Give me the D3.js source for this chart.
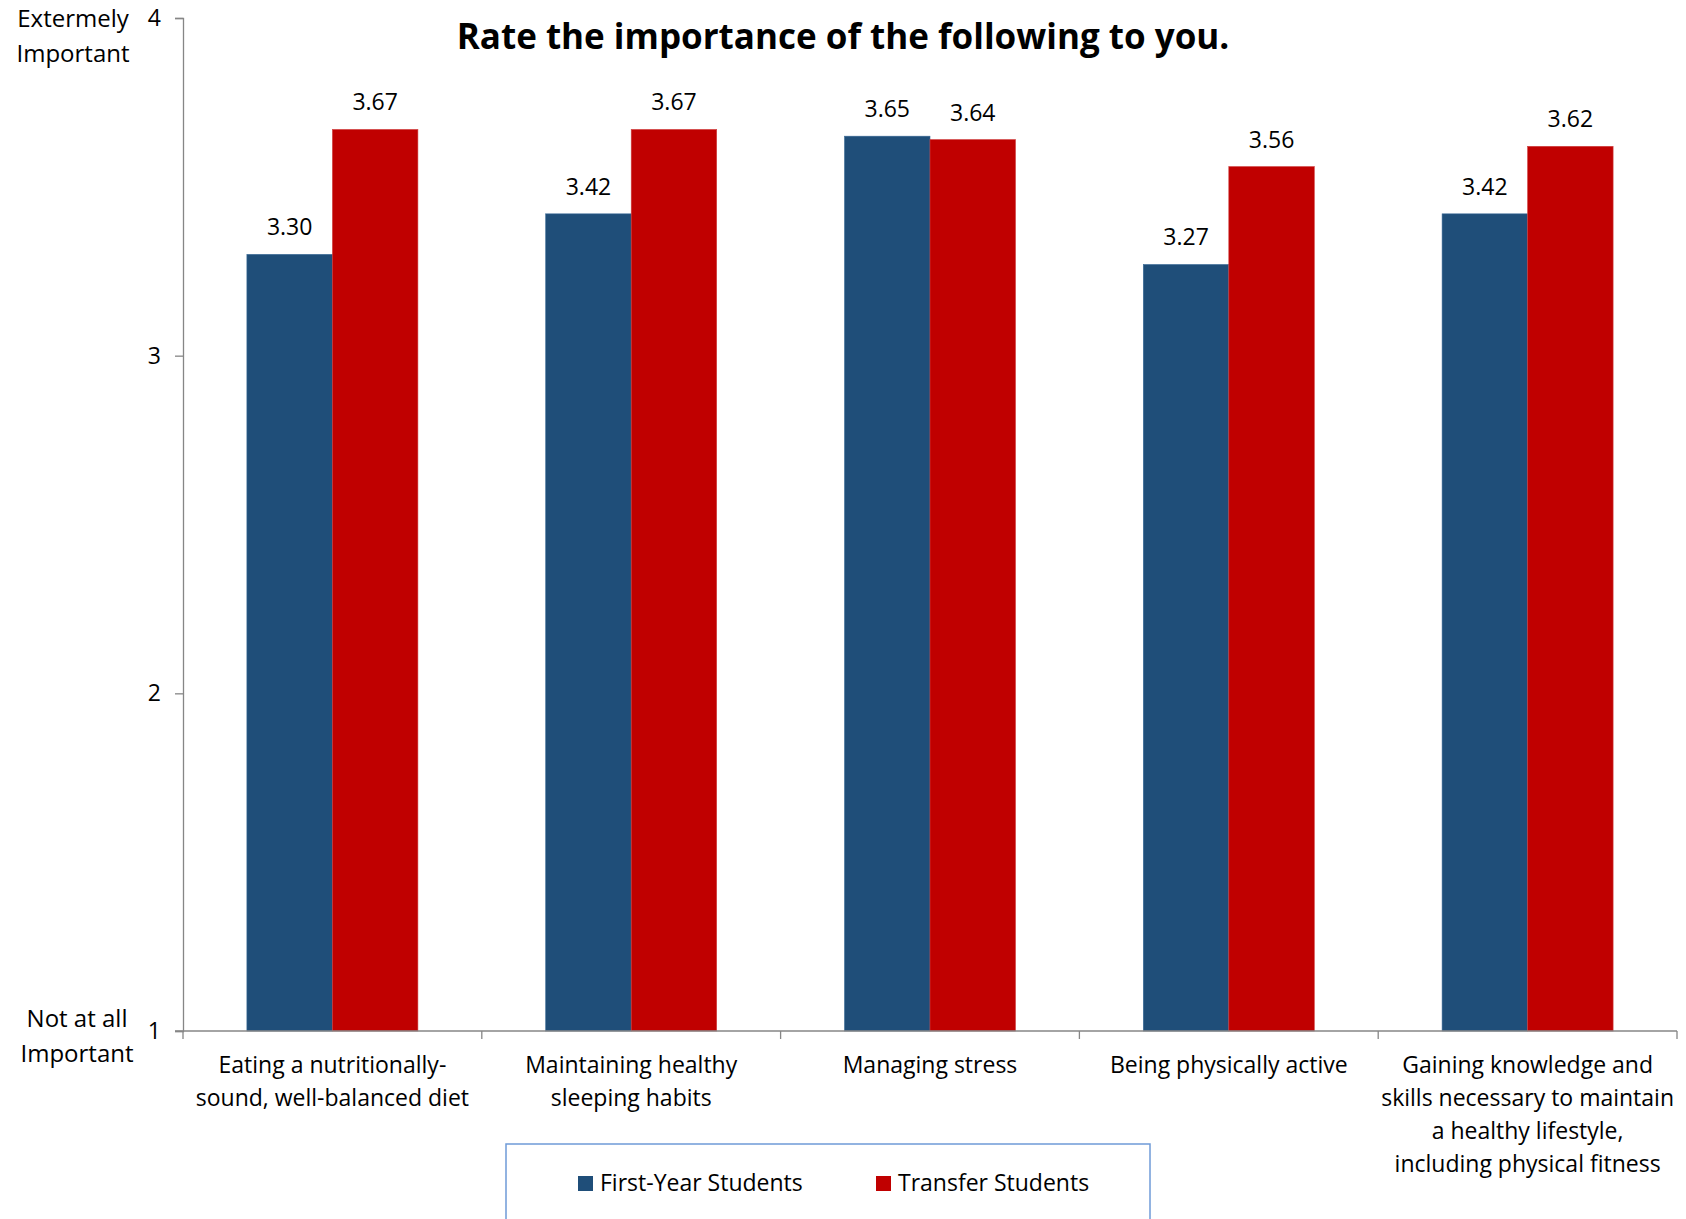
<!DOCTYPE html>
<html><head><meta charset="utf-8">
<script src="https://cdn.jsdelivr.net/npm/d3@7"></script>
<style>body{margin:0;background:#fff}svg{display:block}text{font-family:"Open Sans",sans-serif;fill:#000}</style>
</head><body>
<script>
const categories = [
  "Eating a nutritionally-\nsound, well-balanced diet",
  "Maintaining healthy\nsleeping habits",
  "Managing stress",
  "Being physically active",
  "Gaining knowledge and\nskills necessary to maintain\na healthy lifestyle,\nincluding physical fitness"
];
const seriesNames = ["First-Year Students", "Transfer Students"];
const firstYear = [3.30, 3.42, 3.65, 3.27, 3.42];
const transfer = [3.67, 3.67, 3.64, 3.56, 3.62];
const yTicks = [1, 2, 3, 4];
const title = "Rate the importance of the following to you.";
const colors = ["#1F4E79", "#C00000"];

const W = 1686, H = 1219;
const svg = d3.select("body").append("svg").attr("width", W).attr("height", H);

const x0 = d3.scaleBand().domain(categories).range([183, 1677]).paddingInner(0.4277).paddingOuter(0.21385);
const x1 = d3.scaleBand().domain(seriesNames).range([0, x0.bandwidth()]);
const y = d3.scaleLinear().domain([1, 4]).range([1031, 18]);
const color = d3.scaleOrdinal().domain(seriesNames).range(colors);
const values = [firstYear, transfer];

// bars
const g = svg.append("g");
categories.forEach((c, i) => {
  seriesNames.forEach((s, j) => {
    const v = values[j][i];
    g.append("rect")
      .attr("x", x0(c) + x1(s))
      .attr("y", y(v))
      .attr("width", x1.bandwidth())
      .attr("height", y(1) - y(v))
      .attr("fill", color(s))
      .attr("stroke", j === 0 ? "#3a6a96" : "#d04040").attr("stroke-width", 0.6);
    g.append("text")
      .attr("x", x0(c) + x1(s) + x1.bandwidth() / 2)
      .attr("y", y(v) - 19)
      .attr("text-anchor", "middle")
      .style("font-size", "23px")
      .text(v.toFixed(2));
  });
});

// y axis
const yAxis = d3.axisLeft(y).tickValues(yTicks).tickSize(8).tickPadding(14).tickFormat(d3.format("d"));
const ya = svg.append("g").attr("transform", "translate(183,0)").call(yAxis);
ya.select(".domain").attr("stroke", "#868686").attr("stroke-width", 1.3);
ya.selectAll(".tick line").attr("stroke", "#868686").attr("stroke-width", 1.3);
ya.selectAll(".tick text").style("font-size", "23px").attr("font-family", "Open Sans").attr("fill", "#000");

// x axis
const xa = svg.append("g").attr("transform", "translate(0,1031)");
xa.append("line").attr("x1", 175).attr("x2", 1677).attr("stroke", "#868686").attr("stroke-width", 1.3);
const bounds = d3.range(categories.length + 1).map(i => x0.range()[0] + i * x0.step());
xa.selectAll(".bt").data(bounds).enter().append("line")
  .attr("x1", d => d).attr("x2", d => d).attr("y1", 0).attr("y2", 8)
  .attr("stroke", "#868686").attr("stroke-width", 1.3);
categories.forEach(c => {
  const t = xa.append("text").attr("text-anchor", "middle").style("font-size", "23px")
    .attr("transform", `translate(${x0(c) + x0.bandwidth() / 2},0)`);
  c.split("\n").forEach((line, k) => {
    t.append("tspan").attr("x", 0).attr("y", 42 + k * 33).text(line);
  });
});

// y end labels
const endLabels = [["Extermely", "Important", 73, 27], ["Not at all", "Important", 77, 1027]];
endLabels.forEach(([a, b, cx, by]) => {
  const t = svg.append("text").attr("text-anchor", "middle").style("font-size", "24px");
  t.append("tspan").attr("x", cx).attr("y", by).text(a);
  t.append("tspan").attr("x", cx).attr("y", by + 35).text(b);
});

// title
svg.append("text").attr("x", 843).attr("y", 49).attr("text-anchor", "middle")
  .style("font-size", "35px").style("font-weight", "bold").text(title);

// legend
svg.append("rect").attr("x", 506).attr("y", 1144).attr("width", 644).attr("height", 90)
  .attr("fill", "none").attr("stroke", "#6F9BD8").attr("stroke-width", 1.5);
const legX = [578, 876];
seriesNames.forEach((s, j) => {
  svg.append("rect").attr("x", legX[j]).attr("y", 1176).attr("width", 15).attr("height", 15).attr("fill", color(s));
  svg.append("text").attr("x", legX[j] + 22).attr("y", 1191).style("font-size", "23px").text(s);
});
</script>
</body></html>
